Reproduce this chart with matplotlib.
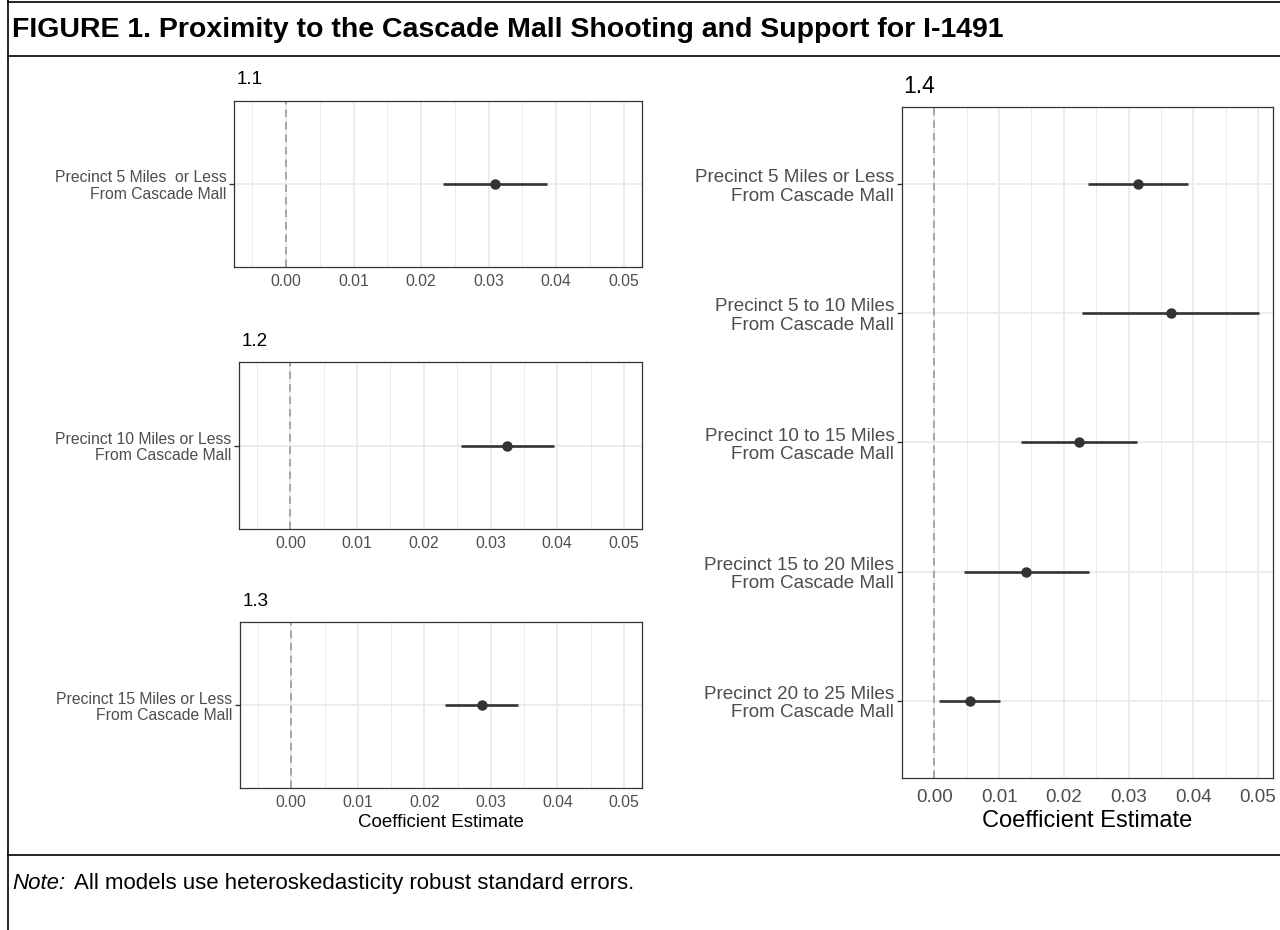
import numpy as np
import matplotlib.pyplot as plt

plt.rcParams['font.family'] = ['Liberation Sans', 'DejaVu Sans']

W, H = 1280, 930

# panels 1.1 - 1.3: one estimate each
left_titles = ['1.1', '1.2', '1.3']
left_labels = ['Precinct 5 Miles  or Less\nFrom Cascade Mall',
               'Precinct 10 Miles or Less\nFrom Cascade Mall',
               'Precinct 15 Miles or Less\nFrom Cascade Mall']
left_est = [0.0309, 0.0325, 0.0286]
left_lo = [0.0233, 0.0256, 0.0231]
left_hi = [0.0387, 0.0395, 0.0341]

# panel 1.4: distance bands
band_labels = ['Precinct 5 Miles or Less\nFrom Cascade Mall',
               'Precinct 5 to 10 Miles\nFrom Cascade Mall',
               'Precinct 10 to 15 Miles\nFrom Cascade Mall',
               'Precinct 15 to 20 Miles\nFrom Cascade Mall',
               'Precinct 20 to 25 Miles\nFrom Cascade Mall']
band_est = [0.0315, 0.0365, 0.0224, 0.0142, 0.0055]
band_lo = [0.0238, 0.0228, 0.0134, 0.0045, 0.0007]
band_hi = [0.0392, 0.0501, 0.0313, 0.0239, 0.0101]

xticks = [0.00, 0.01, 0.02, 0.03, 0.04, 0.05]
xlabels = ['0.00', '0.01', '0.02', '0.03', '0.04', '0.05']
minor_ticks = [-0.005, 0.005, 0.015, 0.025, 0.035, 0.045]


def px_axes(fig, x0, y0, x1, y1):
    # pixel box (top-left origin) -> figure axes
    return fig.add_axes([x0 / W, 1 - y1 / H, (x1 - x0) / W, (y1 - y0) / H])


def coef_panel(ax, labels, est, lo, hi, xlim, fs, xpad):
    n = len(labels)
    ys = np.arange(n)
    ax.set_xlim(*xlim)
    ax.set_ylim(n - 1 + 0.6, -0.6)
    ax.set_xticks(xticks)
    ax.set_xticklabels(xlabels)
    ax.set_xticks(minor_ticks, minor=True)
    ax.set_yticks(ys)
    ax.set_yticklabels(labels, linespacing=1.1)
    ax.grid(True, which='major', color='#EBEBEB', lw=1.3)
    ax.grid(True, which='minor', axis='x', color='#EBEBEB', lw=0.7)
    ax.set_axisbelow(True)
    ax.axvline(0, color='#9A9A9A', lw=1.2, dashes=(4.5, 3), zorder=2)
    ax.hlines(ys, lo, hi, color='#333333', lw=1.9, zorder=3)
    ax.plot(est, ys, 'o', color='#333333', ms=6.5, zorder=4)
    for s in ax.spines.values():
        s.set_color('#333333')
        s.set_linewidth(0.9)
    ax.tick_params(axis='x', which='both', length=0, labelsize=fs,
                   labelcolor='#4D4D4D', pad=xpad)
    ax.tick_params(axis='y', length=3.5, width=1.0, color='#333333',
                   labelsize=fs, labelcolor='#4D4D4D', pad=2)


fig = plt.figure(figsize=(W / 100, H / 100), dpi=100)

left_boxes = [(234, 101, 642, 267), (239, 362, 642, 529), (240, 622, 642, 788)]
for i in range(3):
    ax = px_axes(fig, *left_boxes[i])
    coef_panel(ax, [left_labels[i]], [left_est[i]], [left_lo[i]], [left_hi[i]],
               (-0.0077, 0.0527), 11.3, 5)
    fig.text((left_boxes[i][0] + 3) / W, 1 - (left_boxes[i][1] - 21) / H,
             left_titles[i], fontsize=13.5, va='center', ha='left')
    if i == 2:
        ax.set_xlabel('Coefficient Estimate', fontsize=13.5, labelpad=3)

ax4 = px_axes(fig, 902, 107, 1273, 778)
coef_panel(ax4, band_labels, band_est, band_lo, band_hi,
           (-0.0025, 0.0523), 13.6, 8)
ax4.set_xlabel('Coefficient Estimate', fontsize=17, labelpad=3)
fig.text(903 / W, 1 - 86 / H, '1.4', fontsize=16.5, va='center', ha='left')

# figure frame, title and note
frame = dict(color='black', lw=1.2, transform=fig.transFigure)
fig.add_artist(plt.Line2D([8 / W, 8 / W], [0, 1], **frame))
fig.add_artist(plt.Line2D([8 / W, 1], [1 - 2 / H, 1 - 2 / H], **frame))
fig.add_artist(plt.Line2D([8 / W, 1], [1 - 56 / H, 1 - 56 / H], **frame))
fig.add_artist(plt.Line2D([8 / W, 1], [1 - 855 / H, 1 - 855 / H], **frame))

fig.text(12 / W, 1 - 30 / H,
         'FIGURE 1. Proximity to the Cascade Mall Shooting and Support for I-1491',
         fontsize=20.5, weight='bold', va='center', ha='left')

note = fig.text(12 / W, 1 - 883 / H, 'Note:', fontsize=16, style='italic',
                va='center', ha='left')
bb = note.get_window_extent(renderer=fig.canvas.get_renderer())
fig.text((bb.x1 + 9) / W, 1 - 883 / H,
         'All models use heteroskedasticity robust standard errors.',
         fontsize=16, va='center', ha='left')

fig.savefig('out.png', dpi=100)
